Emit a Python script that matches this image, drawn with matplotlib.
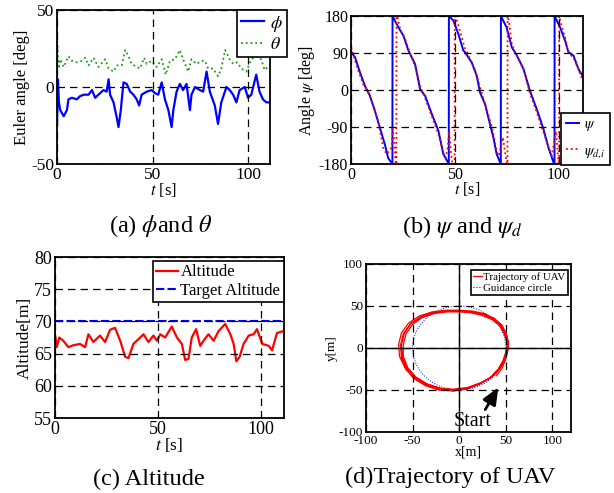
import numpy as np
import matplotlib
matplotlib.use('Agg')
import matplotlib.pyplot as plt
from matplotlib.patches import Circle
from matplotlib.lines import Line2D

plt.rcParams['font.family'] = ['Liberation Serif', 'DejaVu Serif']
plt.rcParams['mathtext.fontset'] = 'stix'
plt.rcParams['axes.unicode_minus'] = False

# (a) euler angles
phi_t = [0, 0.5, 1, 1.7, 3.5, 5.2, 6, 7.8, 10.4, 12, 14, 16.5, 18.3, 20, 21.7, 24.3, 26, 27, 27.8, 29.6,
         31.3, 32.2, 33.4, 34.8, 36.5, 38.3, 40, 41.7, 43, 44.3, 47, 49.6, 51.3, 53, 54.8, 56.5, 58.3, 60,
         60.9, 62.6, 64.3, 66, 67.8, 69.6, 70.4, 72.2, 74.8, 76.5, 78.3, 80, 82.6, 84.3, 86, 88.7, 90.4,
         92.2, 93.9, 95.6, 98.3, 100, 101.7, 104.3, 106, 107.8, 109.6, 111.3]
phi = [-25, 5, -10, -15, -19, -15, -8, -7, -8, -6, -5, -5, -2, -7, -5, -2, -3, 5, -5, -10,
       -20, -26, -15, 3, 2, -3, -5, -8, -12, -5, -3, -2, -4, -5, 3, -8, -15, -26,
       -15, -3, 2, -2, 2, -15, -5, 0, -2, -3, 10, -3, -12, -24, -10, 0, -2,
       -5, -10, -2, 0, -7, -5, 8, -3, -8, -10, -10]
theta_t = [0, 0.5, 0.9, 1.7, 3.5, 6, 7.8, 10.4, 13, 14.8, 16.5, 19.1, 21.7, 25.2, 27, 29.6, 31.3, 33.9,
           35.7, 37.4, 39.1, 41.7, 43.5, 45.6, 47, 49.6, 52.2, 54.8, 56.9, 59.1, 61.7, 64.3, 66, 68.7,
           70.4, 73, 75.7, 77.4, 79.1, 81.7, 84.3, 86, 88, 90.4, 92.2, 94.3, 96.5, 99.1, 101.7, 104.3,
           106.9, 108.7, 111.3]
theta = [33, 20, 12, 18, 13, 20, 17, 16, 17, 19, 14, 19, 13, 18, 12, 10, 14, 14,
         24, 20, 15, 13, 12, 19, 15, 17, 13, 18, 8, 17, 18, 24, 18, 10,
         18, 15, 17, 17, 12, 12, 7, 12, 24, 18, 15, 16, 12, 10, 18, 20,
         18, 11, 14]

# (b) heading
psi_t = [0, 1.9, 4.3, 6.7, 9.1, 11.5, 13.9, 16.3, 17.9, 19.9, 19.95, 22.8, 25.2, 27.6, 30.8, 33.2, 35.6,
         38.8, 42, 44.4, 47.0, 47.05, 49.2, 51.6, 54, 54.8, 58, 60.4, 62, 64.4, 66.4, 68.4, 70, 72, 72.05,
         74.8, 77.3, 79.7, 82.9, 86, 89.3, 92.5, 94.9, 97.3, 97.8, 97.85, 100.5, 102.9, 104.5, 106.9,
         109.3, 111.7]
psi = [92, 80, 43, 10, -14, -51, -92, -133, -166, -180, 180, 152, 132, 96, 63, 2, -14,
       -58, -99, -156, -180, 180, 169, 136, 96, 92, 67, 35, -6, -34, -75, -115, -156, -180, 180,
       152, 104, 84, 51, -2, -47, -95, -140, -176, -180, 180, 152, 120, 92, 84,
       51, 31]
psid_t = [0, 1.1, 3.5, 5.9, 8, 10.5, 13, 15.5, 17.1, 18.4, 19.5, 20, 20.8, 21.5, 21.8, 21.85, 22.4, 23.6,
          26, 28.5, 31, 33.5, 35, 37.5, 40, 42.5, 44, 45.5, 46.5, 47.2, 48, 48.8, 49.8, 49.85, 50.5, 52,
          54.5, 57, 59.5, 62, 64, 66, 68, 70, 71, 72, 73, 74, 75, 75.2, 75.25, 76, 77.3, 80, 83, 86, 89,
          92, 95, 96.5, 97.5, 98.5, 99.3, 99.8, 100, 100.05, 101, 103, 104, 105, 107, 109, 111.5]
psid = [104, 85, 47, 14, -3, -35, -75, -141, -156, -148, -140, -95, -127, -180, -180, 180, 177, 148,
        124, 88, 55, 5, -12, -45, -80, -115, -150, -165, -140, -100, -150, -180, -180, 180, 175, 150,
        105, 78, 50, 8, -28, -60, -95, -150, -160, -140, -115, -150, -180, -180, 180, 165, 110, 80, 50, -8, -50,
        -95, -140, -160, -130, -100, -150, -180, -180, 180, 160, 125, 100, 88, 78, 55, 20]

# (c) altitude
alt_t = [0, 0.8, 2.1, 4, 6.5, 8.9, 12.1, 14.6, 16.2, 18.6, 21.8, 24.3, 26.7, 29.1, 31.6, 34, 35.6, 38,
         41.3, 42.9, 45.3, 47.7, 49.4, 51, 53.4, 56.6, 59.1, 61.5, 63.1, 64.7, 66.3, 68.4, 70.4, 72, 74.4,
         76.9, 79.3, 82.5, 85, 86.6, 87.9, 89.5, 91.4, 93.9, 96.3, 97.9, 100.5, 103.6, 105.2, 107.6, 110.8]
alt = [68, 66, 67.5, 67, 66, 66.3, 66.5, 66, 68, 66.8, 67.8, 66.8, 68.7, 69, 67, 64.5, 64.3, 66.5,
       67.5, 68, 66.8, 67.8, 67, 68, 67.5, 69.2, 67.5, 66.5, 64, 64.2, 67.5, 68.8, 66.2, 67, 68,
       67, 68.5, 69.6, 68, 66.5, 63.8, 64.5, 66.5, 67.8, 68, 68.8, 66.5, 66.2, 65.5, 68.2, 68.5]
target_alt = 70

# (d) trajectory, about four laps
traj_x = [40, 46, 50, 52, 51, 48, 43, 35, 24, 12, 0, -13, -27, -40, -50, -57, -60, -60, -55, -46, -34, -20, -6, 9, 24, 37,
          44, 49, 52, 53, 50, 45, 37, 26, 13, 0, -14, -28, -41, -52, -60, -63, -62, -57, -48, -35, -21, -6, 9, 23, 35,
          42, 48, 51, 53, 51, 46, 38, 27, 14, 0, -14, -29, -43, -54, -62, -65, -64, -58, -49, -36, -22, -7, 8, 22, 34,
          42, 47, 50, 52, 50, 45, 37, 26, 13, 0, -13, -27, -41, -52, -59, -62, -61, -56, -47, -35, -21, -7, 8, 21, 33,
          41, 47, 51, 52]
traj_y = [-33, -24, -13, -3, 7, 18, 27, 34, 39, 42, 43, 43, 41, 36, 28, 17, 4, -10, -24, -35, -43, -48, -49, -47, -41, -33,
          -24, -14, -4, 6, 17, 27, 35, 40, 43, 44, 44, 42, 37, 29, 17, 3, -11, -25, -36, -44, -49, -51, -48, -42, -34,
          -26, -16, -6, 4, 16, 27, 35, 41, 44, 45, 45, 43, 38, 30, 18, 4, -10, -24, -36, -45, -50, -51, -49, -43, -35,
          -25, -15, -5, 4, 15, 26, 34, 40, 43, 44, 44, 42, 37, 29, 17, 4, -10, -24, -35, -43, -48, -50, -48, -43, -36,
          -27, -17, -6, 2]
circle_c = (0, 0)
circle_r = 50

W, H = 614, 493
fig = plt.figure(figsize=(W / 100, H / 100), dpi=100)

def box(l, t, r, b):
    return [l / W, (H - b) / H, (r - l) / W, (b - t) / H]

def style(ax, fs):
    ax.tick_params(length=0, pad=2, labelsize=fs, colors='black')
    for s in ax.spines.values():
        s.set_linewidth(1.3)
        s.set_color('black')
    ax.grid(True, color='black', ls=(0, (6, 4)), lw=0.9)
    ax.set_axisbelow(False)

def legend(ax, handles, labels, l, t, fs, hl, **kw):
    lg = ax.legend(handles, labels, loc='upper left', bbox_to_anchor=(l / W, (H - t) / H),
                   bbox_transform=fig.transFigure, fontsize=fs, handlelength=hl, borderaxespad=0,
                   fancybox=False, framealpha=1, edgecolor='black', **kw)
    lg.get_frame().set_linewidth(1.2)
    return lg

# (a)
ax1 = fig.add_axes(box(57, 10, 270, 164))
h1, = ax1.plot(phi_t, phi, color='blue', lw=1.6)
h2, = ax1.plot(theta_t, theta, color='#1a9a1a', lw=1.3, ls=':')
ax1.set_xlim(0, 111.5)
ax1.set_ylim(-50, 50)
ax1.set_xticks([0, 50, 100])
ax1.set_yticks([-50, 0, 50])
style(ax1, 12.5)
ax1.set_ylabel('Euler angle [deg]', fontsize=12, labelpad=1)
ax1.set_xlabel('$t$ [s]', fontsize=12, labelpad=-1)
legend(ax1, [h1, h2], [r'$\phi$', r'$\theta$'], 237, 10, 13, 1.3,
       handletextpad=0.35, borderpad=0.2, labelspacing=0.15)

# (b)
ax2 = fig.add_axes(box(351, 16, 583, 164))
h3, = ax2.plot(psi_t, psi, color='blue', lw=1.4)
h4, = ax2.plot(psid_t, psid, color='red', lw=1.3, ls=':')
ax2.set_xlim(0, 111.5)
ax2.set_ylim(-180, 180)
ax2.set_xticks([0, 50, 100])
ax2.set_yticks([-180, -90, 0, 90, 180])
style(ax2, 11.5)
ax2.set_ylabel(r'Angle $\psi$ [deg]', fontsize=11.5, labelpad=1)
ax2.set_xlabel('$t$ [s]', fontsize=11.5, labelpad=-2)
legend(ax2, [h3, h4], [r'$\psi$', r'$\psi_{d{,}i}$'], 561, 113, 10.5, 0.9,
       handletextpad=0.3, borderpad=0.35, labelspacing=0.75)

# (c)
ax3 = fig.add_axes(box(55, 257, 284, 418))
h5, = ax3.plot(alt_t, alt, color='red', lw=1.6)
h6 = ax3.axhline(target_alt, color='blue', lw=1.5, ls=(0, (4, 1.5)))
ax3.set_xlim(0, 111)
ax3.set_ylim(55, 80)
ax3.set_xticks([0, 50, 100])
ax3.set_yticks([55, 60, 65, 70, 75, 80])
style(ax3, 13)
ax3.set_ylabel('Altitude[m]', fontsize=12.5, labelpad=1)
ax3.set_xlabel('$t$ [s]', fontsize=12.5, labelpad=-1)
legend(ax3, [h5, h6], ['Altitude', 'Target Altitude'], 153, 261, 12, 1.3,
       handletextpad=0.15, borderpad=0.2, labelspacing=0.15)

# (d)
ax4 = fig.add_axes(box(366, 264, 571, 432))
h7, = ax4.plot(traj_x, traj_y, color='red', lw=0.9)
ax4.add_patch(Circle(circle_c, circle_r, fill=False, color='blue', lw=0.7, ls=':'))
ax4.axhline(0, color='black', lw=1.0)
ax4.axvline(0, color='black', lw=1.0)
ax4.set_xlim(-100, 120)
ax4.set_ylim(-100, 100)
ax4.set_xticks([-100, -50, 0, 50, 100])
ax4.set_yticks([-100, -50, 0, 50, 100])
style(ax4, 9.5)
ax4.set_ylabel('y[m]', fontsize=9.5, labelpad=1)
ax4.set_xlabel('x[m]', fontsize=10, labelpad=-1)
h8 = Line2D([], [], color='blue', lw=0.8, ls=':')
legend(ax4, [h7, h8], ['Trajectory of UAV', 'Guidance circle'], 471, 270, 7.8, 0.8,
       handletextpad=0.15, borderpad=0.2, labelspacing=0.1)
ax4.annotate('Start', xy=(42, -47), xytext=(14, -88), fontsize=14.5, ha='center', va='center',
             arrowprops=dict(arrowstyle='-|>,head_width=0.3,head_length=0.7', lw=2.0,
                             color='black', shrinkA=0, shrinkB=0, relpos=(0.8, 1.0)))

# captions
fig.text(161 / W, 1 - 226 / H, r'(a) $\phi$and $\theta$', fontsize=17.5, ha='center', va='center')
fig.text(462 / W, 1 - 227 / H, r'(b) $\psi$ and $\psi_d$', fontsize=17.5, ha='center', va='center')
fig.text(149 / W, 1 - 479 / H, '(c) Altitude', fontsize=17.5, ha='center', va='center')
fig.text(450 / W, 1 - 477 / H, '(d)Trajectory of UAV', fontsize=17.5, ha='center', va='center')

fig.savefig('out.png', dpi=100)
